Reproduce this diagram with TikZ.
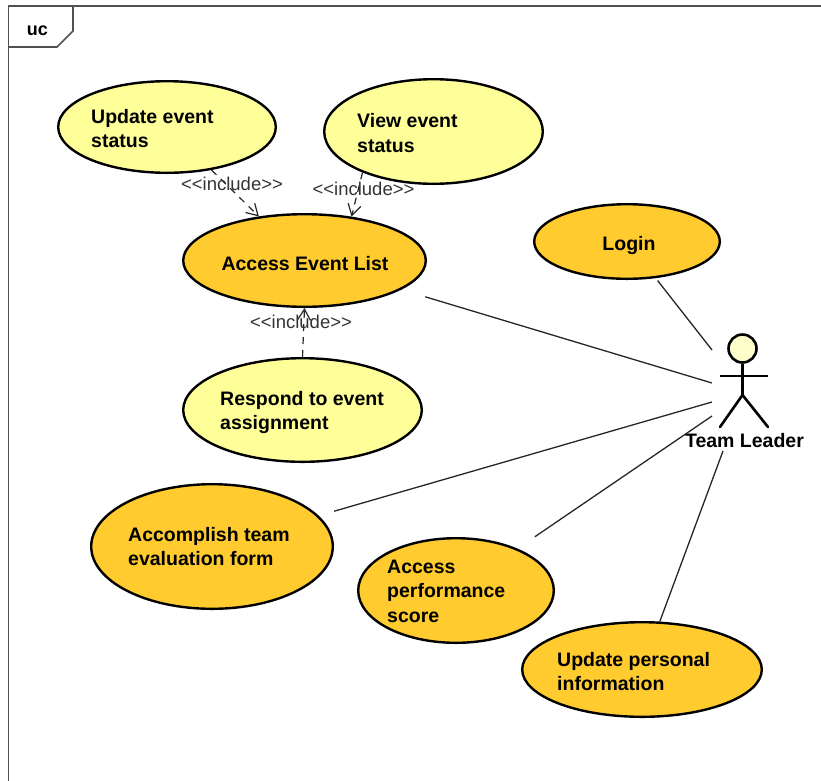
\documentclass[tikz,border=0pt]{standalone}
\usepackage{fontspec}
\setmainfont{Liberation Sans}
\newfontfamily\inclfont{Liberation Sans}[Ligatures=TeXOff]
\usetikzlibrary{shapes.geometric,arrows.meta}
\definecolor{ucyellow}{HTML}{FFFF99}
\definecolor{ucorange}{HTML}{FFCB2E}
\definecolor{framegray}{HTML}{505050}
\definecolor{headfill}{HTML}{FFFFCC}
\definecolor{inclgray}{HTML}{333333}
\begin{document}
\begin{tikzpicture}[x=1pt,y=-1pt,
  usecase/.style={ellipse,draw=black,line width=2.4pt,inner sep=0pt},
  lightuc/.style={usecase,fill=ucyellow},
  darkuc/.style={usecase,fill=ucorange},
  uctext/.style={font=\fontsize{19.5}{24.5}\selectfont\bfseries,align=left,inner sep=0pt,anchor=base west},
  uccenter/.style={font=\fontsize{19.5}{24.5}\selectfont\bfseries,inner sep=0pt,anchor=base},
  assoc/.style={line width=1.3pt,draw=black!85},
  incl/.style={dash pattern=on 7pt off 6pt,line width=1.2pt,draw=black!85,-{Straight Barb[length=11pt,width=13pt]}},
  incllabel/.style={font=\inclfont\fontsize{18.5}{22}\selectfont,text=inclgray,inner sep=0pt,anchor=base},
  actorline/.style={line width=2.6pt,line cap=round}
]
\useasboundingbox (0,0) rectangle (821,780);
% frame
\draw[framegray,line width=1.6pt] (8.5,790) -- (8.5,6) -- (830,6);
\draw[framegray,line width=1.6pt] (8.5,47) -- (57,47) -- (73,31) -- (73,6);
\node[font=\fontsize{18}{20}\selectfont\bfseries,inner sep=0pt,anchor=base] (uc) at (37.5,35) {uc};

% use cases
\node[lightuc,minimum width=217.6pt,minimum height=91.6pt] (ues) at (167,127) {};
\node[lightuc,minimum width=218.6pt,minimum height=104.6pt] (ves) at (433.5,131.5) {};
\node[darkuc,minimum width=242.6pt,minimum height=92.6pt] (ael) at (304.5,260.5) {};
\node[darkuc,minimum width=185.6pt,minimum height=74.6pt] (login) at (627,241.5) {};
\node[lightuc,minimum width=238.6pt,minimum height=103.6pt] (rsp) at (302.5,410) {};
\node[darkuc,minimum width=241.6pt,minimum height=124.6pt] (acc) at (212,546.5) {};
\node[darkuc,minimum width=195.6pt,minimum height=104.6pt] (aps) at (456,590.5) {};
\node[darkuc,minimum width=239.6pt,minimum height=94.6pt] (upi) at (642,669.5) {};

% texts (base anchor = baseline of the last line)
\node[uctext] (tues) at (91,147.5) {Update event\\status};
\node[uctext] (tves) at (357,152) {View event\\status};
\node[uccenter] (tael) at (305,270) {Access Event List};
\node[uccenter] (tlogin) at (629,250) {Login};
\node[uctext] (trsp) at (220,429.5) {Respond to event\\assignment};
\node[uctext] (tacc) at (128,565.5) {Accomplish team\\evaluation form};
\node[uctext] (taps) at (387,622) {Access\\performance\\score};
\node[uctext] (tupi) at (557,690.5) {Update personal\\information};

% include relations
\draw[incl] (ues.-44) -- (ael.136);
\draw[incl] (ves.210) -- (ael.43);
\draw[incl] (rsp.90) -- (ael.270);
\node[incllabel] (l1) at (232,190) {<<include>>};
\node[incllabel] (l2) at (363.5,195) {<<include>>};
\node[incllabel] (l3) at (301,328) {<<include>>};

% actor
\node[circle,draw=black,fill=headfill,line width=2.6pt,minimum size=28pt,inner sep=0pt] (head) at (742.5,348.5) {};
\coordinate (hip) at (742.5,395);
\coordinate (larm) at (720,376);
\coordinate (rarm) at (768,376);
\coordinate (lfoot) at (720,427);
\coordinate (rfoot) at (768,427);
\draw[actorline,line cap=butt] (head.south) -- (hip);
\draw[actorline,line cap=butt] (larm) -- (rarm);
\draw[actorline] (lfoot) -- (hip) -- (rfoot);
\node[uccenter] (actor) at (744.5,447) {Team Leader};

% associations (free ends near the actor)
\coordinate (e1) at (712,350);
\coordinate (e2) at (712,383);
\coordinate (e3) at (712,402);
\coordinate (e4) at (712,416);
\coordinate (e5) at (723,451);
\draw[assoc,shorten <=3pt] (login) -- (e1);
\draw[assoc,shorten <=25pt] (ael) -- (e2);
\draw[assoc,shorten <=16pt] (acc) -- (e3);
\draw[assoc,shorten <=21pt] (aps) -- (e4);
\draw[assoc] (upi) -- (e5);
\end{tikzpicture}
\end{document}
